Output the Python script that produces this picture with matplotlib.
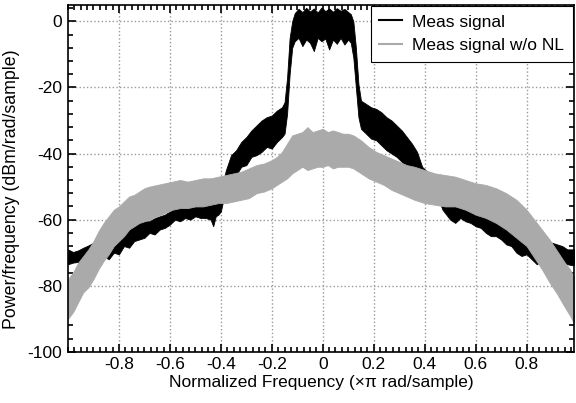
import numpy as np
import matplotlib
matplotlib.use("Agg")
import matplotlib.pyplot as plt
from matplotlib.lines import Line2D
from matplotlib.ticker import MultipleLocator

plt.rcParams['font.family'] = ['Liberation Sans', 'DejaVu Sans']
plt.rcParams['axes.unicode_minus'] = False

# Meas signal (black): frequency knots, upper / lower edge of the noisy trace (dB)
meas_f = [-1.0, -0.98, -0.96, -0.94, -0.92, -0.9, -0.88, -0.86, -0.84, -0.82,
          -0.8, -0.78, -0.76, -0.74, -0.72, -0.7, -0.68, -0.66, -0.64, -0.62,
          -0.6, -0.58, -0.56, -0.54, -0.52, -0.5, -0.48, -0.46, -0.44, -0.43,
          -0.42, -0.41, -0.4, -0.39, -0.38, -0.36, -0.34, -0.32, -0.3, -0.28,
          -0.26, -0.24, -0.22, -0.2, -0.18, -0.16, -0.15, -0.14, -0.13, -0.12,
          -0.11, -0.095, -0.08, -0.065, -0.05, -0.035, -0.02, -0.005, 0.01, 0.025,
          0.04, 0.055, 0.07, 0.085, 0.1, 0.11, 0.12, 0.13, 0.14, 0.15,
          0.17, 0.19, 0.21, 0.23, 0.25, 0.27, 0.29, 0.31, 0.33, 0.35,
          0.37, 0.39, 0.41, 0.43, 0.45, 0.47, 0.5, 0.52, 0.54, 0.56,
          0.58, 0.6, 0.62, 0.64, 0.66, 0.68, 0.7, 0.72, 0.74, 0.76,
          0.78, 0.8, 0.82, 0.84, 0.86, 0.88, 0.9, 0.92, 0.94, 0.96,
          0.98, 0.99]
meas_hi = [-69, -69.8, -69.3, -68.5, -67.8, -67, -66.5, -65.5, -65, -64.5,
           -63.5, -63, -62.5, -62, -61, -60.5, -60.5, -59.5, -59, -58.5,
           -57.5, -56.5, -56, -56, -55.5, -55.5, -55, -55.5, -55, -55,
           -55, -54.5, -52, -48, -45, -40.5, -39, -36.5, -35, -33,
           -31.5, -30, -29, -28.5, -27, -26, -24.5, -17, -5, 0,
           2.5, 3.8, 2.8, 4.1, 3, 3.9, 2.7, 4.2, 3.1, 3.9,
           2.9, 4, 3.2, 3.8, 2.8, 2.2, 0, -8, -19, -24,
           -25, -26, -26.5, -27.5, -29, -30, -31.5, -33, -35, -37,
           -39.5, -44, -45.5, -46, -48, -51, -55, -55.5, -55.5, -56.5,
           -57, -57.5, -58, -59, -60, -60.5, -61.5, -62, -63, -63.5,
           -64.5, -65, -65.5, -66, -66, -66.5, -67, -67.5, -68, -69,
           -69, -69]
meas_lo = [-73.5, -73, -72.8, -72.5, -72, -72.5, -73.5, -71, -72, -70,
           -70.5, -68, -68.5, -66.5, -66, -65.5, -64, -64.5, -63, -62.5,
           -61.5, -60, -60.5, -59.5, -60, -59, -59.5, -59.5, -60, -62,
           -59, -58.5, -57.5, -54, -50, -47, -46.5, -44, -43.5, -41,
           -40.5, -39.5, -38, -38.5, -36.5, -35, -34, -28, -16, -8,
           -6, -5, -7.5, -5.5, -6.5, -9, -5, -6, -5.2, -8.5,
           -5.5, -6.8, -5, -7, -5.5, -6.5, -11, -20, -29, -32.5,
           -34, -35.5, -36, -37.5, -39, -40, -41, -42.5, -44, -45.5,
           -48, -48.5, -48.5, -50, -53, -57, -60, -61, -59.5, -60.5,
           -61, -62, -62.5, -64, -65, -65, -66, -67.5, -68, -70,
           -71, -70.5, -72, -73.5, -72.5, -73, -73, -73.5, -73, -73.5,
           -73.8, -73.5]

# Meas signal w/o NL (gray)
nl_f = [-1.0, -0.98, -0.96, -0.94, -0.92, -0.9, -0.88, -0.86, -0.84, -0.82,
        -0.8, -0.78, -0.76, -0.74, -0.72, -0.7, -0.68, -0.65, -0.62, -0.59,
        -0.56, -0.53, -0.5, -0.47, -0.44, -0.41, -0.38, -0.35, -0.32, -0.29,
        -0.26, -0.23, -0.2, -0.18, -0.16, -0.14, -0.12, -0.1, -0.08, -0.06,
        -0.04, -0.02, 0.0, 0.02, 0.04, 0.06, 0.08, 0.1, 0.12, 0.15,
        0.18, 0.21, 0.24, 0.27, 0.3, 0.33, 0.36, 0.4, 0.44, 0.48,
        0.52, 0.56, 0.6, 0.64, 0.68, 0.72, 0.76, 0.8, 0.83, 0.86,
        0.89, 0.92, 0.95, 0.97, 0.99]
nl_hi = [-78, -76, -73, -71, -69, -66.5, -63.5, -61, -59, -57,
         -56, -54.5, -53, -52.5, -51.5, -50.5, -50, -49.5, -49, -48.5,
         -48, -48.5, -48, -47.5, -47.5, -47, -46.5, -46, -45.5, -44.5,
         -43.5, -43, -42, -41, -39.5, -37, -34.5, -34, -33.5, -32,
         -33.5, -33, -32.5, -33.5, -33, -33.5, -34, -34, -34.5, -36,
         -38, -39.5, -40.5, -41.5, -42.5, -43.5, -44, -45, -46, -46.5,
         -47, -48, -49, -49.5, -50.5, -52, -54, -57, -60, -63,
         -66, -69.5, -73, -75, -78]
nl_lo = [-90, -88, -85, -82, -80.5, -78, -75, -72.5, -70.5, -68,
         -66.5, -65, -63, -62, -61, -60.5, -60, -59, -58, -57,
         -56.5, -56.5, -56, -56, -55.5, -55, -55, -54.5, -54, -53.5,
         -52, -51.5, -50.5, -49.5, -48.5, -47.5, -46, -45, -44, -45,
         -44.5, -44, -44, -43.5, -44.5, -44, -44, -44, -44.5, -46,
         -47.5, -48.5, -49.5, -51, -52, -53, -54, -55, -55.5, -56,
         -56, -57, -58.5, -59.5, -61, -63, -65.5, -68, -71.5, -75,
         -79, -82.5, -86.5, -89, -92]

black = '#000000'
gray = '#aaaaaa'

fig = plt.figure(figsize=(5.76, 4.03), dpi=100)
ax = fig.add_axes([0.118, 0.127, 0.8785, 0.861])

ax.fill_between(meas_f, meas_lo, meas_hi, color=black, lw=0.6, edgecolor=black)
ax.fill_between(nl_f, nl_lo, nl_hi, color=gray, lw=0.6, edgecolor=gray)

ax.set_xlim(-1, 0.986)
ax.set_ylim(-100, 5)
ax.set_xticks(np.arange(-0.8, 0.81, 0.2))
ax.set_xticklabels(['-0.8', '-0.6', '-0.4', '-0.2', '0', '0.2', '0.4', '0.6', '0.8'])
ax.set_yticks(np.arange(-100, 1, 20))
ax.xaxis.set_minor_locator(MultipleLocator(0.025))
ax.yaxis.set_minor_locator(MultipleLocator(4))
ax.tick_params(which='both', direction='in', top=True, right=True, labelsize=12.5,
               width=1.2, color='black')
ax.tick_params(which='major', length=6, pad=4)
ax.tick_params(which='minor', length=3.5)
for s in ax.spines.values():
    s.set_linewidth(1.2)
ax.grid(True, which='major', linestyle=':', color='#999999', linewidth=1)
ax.set_axisbelow(True)

ax.set_xlabel('Normalized Frequency (\u00d7\u03c0 rad/sample)', fontsize=12.5, labelpad=2)
ax.set_ylabel('Power/frequency (dBm/rad/sample)', fontsize=12.8, labelpad=1)
ax.yaxis.set_label_coords(-0.095, 0.47)

handles = [Line2D([], [], color=black, lw=1.5), Line2D([], [], color=gray, lw=1.5)]
leg = ax.legend(handles, ['Meas signal', 'Meas signal w/o NL'], loc='upper right',
                fontsize=12.5, fancybox=False, edgecolor='black', framealpha=1,
                borderaxespad=0.05, handlelength=1.3, handletextpad=0.6,
                borderpad=0.5, labelspacing=0.5)
leg.get_frame().set_linewidth(0.8)

fig.savefig('out.png', dpi=100)
